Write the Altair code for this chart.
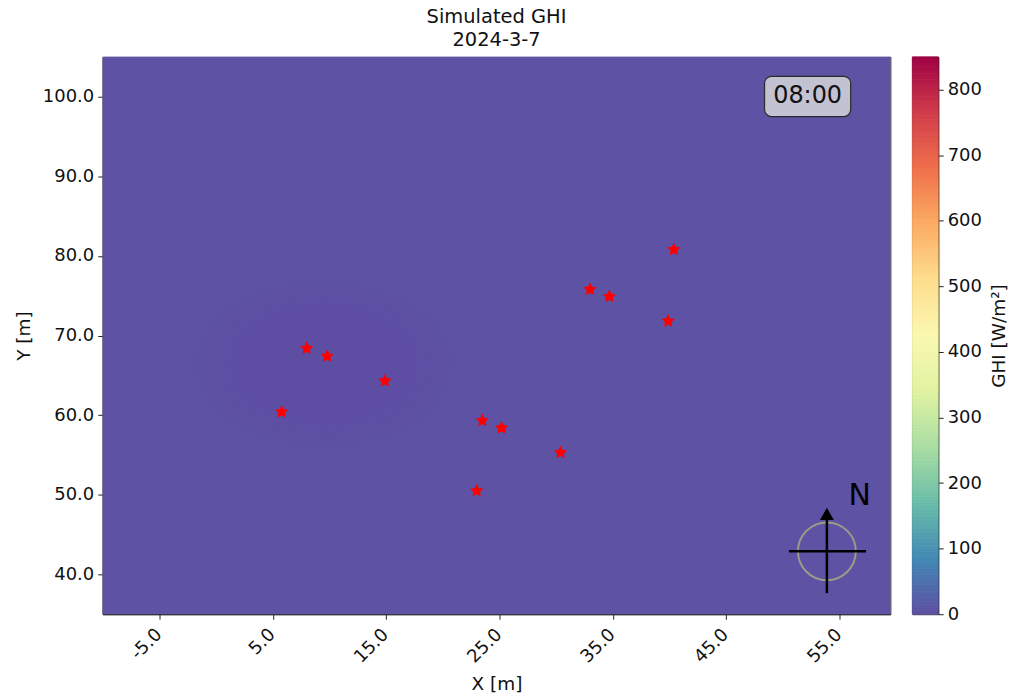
import altair as alt
import pandas as pd

# Pyranometer positions in the site grid (m)
sensor_x = [5.8, 8.0, 9.8, 14.9, 23.5, 25.2, 23.0, 30.4, 33.0, 34.7, 39.9, 40.4]
sensor_y = [60.4, 68.4, 67.4, 64.3, 59.3, 58.4, 50.5, 55.3, 75.8, 74.9, 71.8, 80.8]

# Simulated irradiance field (W/m²) over the site extent
x_extent = [-10.0, 59.5]
y_extent = [35.0, 105.0]
field_ghi = 4.0
shade_ghi = 0.0
shade_center_x = [9.5]
shade_center_y = [66.4]

ghi_domain = [0, 850]
x_ticks = [-5, 5, 15, 25, 35, 45, 55]
y_ticks = [40, 50, 60, 70, 80, 90, 100]
cb_ticks = [0, 100, 200, 300, 400, 500, 600, 700, 800]
cb_step = 5

title_lines = ["Simulated GHI", "2024-3-7"]
time_label = "08:00"

FONT = "DejaVu Sans"
W, H = 790, 559

color_scale = alt.Scale(scheme="spectral", reverse=True, domain=ghi_domain)
xs = alt.Scale(domain=x_extent, nice=False, zero=False)
ys = alt.Scale(domain=y_extent, nice=False, zero=False)

x_enc = alt.X("x:Q", scale=xs, title="X [m]",
              axis=alt.Axis(values=x_ticks,
                            labelExpr="replace(format(datum.value, '.1f'), '\u2212', '-')",
                            labelAngle=315, labelAlign="right", labelBaseline="top",
                            labelOffset=-7, labelPadding=6, titlePadding=8))
y_enc = alt.Y("y:Q", scale=ys, title="Y [m]",
              axis=alt.Axis(values=y_ticks, format=".1f", titlePadding=9,
                            labelPadding=4))

# background field
field_df = pd.DataFrame({"x": [x_extent[0]], "x2": [x_extent[1]],
                         "y": [y_extent[0]], "y2": [y_extent[1]],
                         "ghi": [field_ghi]})
field = alt.Chart(field_df).mark_rect().encode(
    x=x_enc, x2="x2:Q", y=y_enc, y2="y2:Q",
    color=alt.Color("ghi:Q", scale=color_scale, legend=None),
)

# soft lower-irradiance patch, feathered with stacked ellipses
ellipse = "M -1 0 A 1 0.65 0 1 0 1 0 A 1 0.65 0 1 0 -1 0 Z"
shade_df = pd.DataFrame({"x": shade_center_x, "y": shade_center_y, "ghi": [shade_ghi]})
shade_layers = []
for s in [260, 235, 210, 185, 160]:
    shade_layers.append(
        alt.Chart(shade_df).mark_point(shape=ellipse, filled=True, opacity=0.22,
                                       size=s * s, strokeWidth=0).encode(
            x=alt.X("x:Q", scale=xs), y=alt.Y("y:Q", scale=ys),
            color=alt.Color("ghi:Q", scale=color_scale, legend=None),
        )
    )

# sensors as red stars
star = ("M 0 -1 L 0.294 -0.405 L 0.951 -0.309 L 0.476 0.155 L 0.588 0.809 "
        "L 0 0.5 L -0.588 0.809 L -0.476 0.155 L -0.951 -0.309 L -0.294 -0.405 Z")
sens_df = pd.DataFrame({"x": sensor_x, "y": sensor_y})
sensors = alt.Chart(sens_df).mark_point(shape=star, filled=True, color="#ff0000",
                                        size=115, opacity=1, stroke="#ff0000",
                                        strokeWidth=1.4).encode(
    x=alt.X("x:Q", scale=xs), y=alt.Y("y:Q", scale=ys)
)

# time stamp box
box_df = pd.DataFrame({"x": [48.4], "x2": [56.0], "y": [97.5], "y2": [102.55],
                       "tx": [52.2], "ty": [100.1], "label": [time_label]})
box = alt.Chart(box_df).mark_rect(fill="#c2c2d2", stroke="#2a2a2a", strokeWidth=1.2,
                                  cornerRadius=7).encode(
    x=alt.X("x:Q", scale=xs), x2="x2:Q", y=alt.Y("y:Q", scale=ys), y2="y2:Q")
box_text = alt.Chart(box_df).mark_text(font=FONT, fontSize=24, color="#111111",
                                       baseline="middle", align="center").encode(
    x=alt.X("tx:Q", scale=xs), y=alt.Y("ty:Q", scale=ys), text="label:N")

# north compass
cx, cy = 53.9, 42.9
comp_df = pd.DataFrame({"x": [cx], "y": [cy]})
ring = alt.Chart(comp_df).mark_point(shape="circle", filled=False, size=58 * 58,
                                     stroke="#9e9b86", strokeWidth=2, opacity=1).encode(
    x=alt.X("x:Q", scale=xs), y=alt.Y("y:Q", scale=ys))
hbar_df = pd.DataFrame({"x": [50.55], "x2": [57.35], "y": [cy]})
hbar = alt.Chart(hbar_df).mark_rule(color="black", strokeWidth=2.5).encode(
    x=alt.X("x:Q", scale=xs), x2="x2:Q", y=alt.Y("y:Q", scale=ys))
vbar_df = pd.DataFrame({"x": [cx], "y": [37.65], "y2": [47.0]})
vbar = alt.Chart(vbar_df).mark_rule(color="black", strokeWidth=2.5).encode(
    x=alt.X("x:Q", scale=xs), y=alt.Y("y:Q", scale=ys), y2="y2:Q")
head_df = pd.DataFrame({"x": [cx], "y": [47.6]})
head = alt.Chart(head_df).mark_point(shape="triangle-up", filled=True, color="black",
                                     size=196, opacity=1).encode(
    x=alt.X("x:Q", scale=xs), y=alt.Y("y:Q", scale=ys))
n_df = pd.DataFrame({"x": [56.8], "y": [49.9], "t": ["N"]})
north = alt.Chart(n_df).mark_text(font=FONT, fontSize=30, color="black",
                                  baseline="middle", align="center").encode(
    x=alt.X("x:Q", scale=xs), y=alt.Y("y:Q", scale=ys), text="t:N")

main = alt.layer(field, *shade_layers, sensors, box, box_text, ring, hbar, vbar,
                 head, north).properties(
    width=W, height=H,
    title=alt.TitleParams(title_lines, font=FONT, fontSize=19.5, fontWeight="normal",
                          color="#111111", anchor="middle", lineHeight=23, offset=6),
)

# colour bar
levels = list(range(ghi_domain[0], ghi_domain[1], cb_step))
cb_df = pd.DataFrame({"lo": levels, "hi": [v + cb_step for v in levels],
                      "ghi": [v + cb_step / 2 for v in levels]})
colorbar = alt.Chart(cb_df).mark_rect(strokeWidth=0.8).encode(
    y=alt.Y("lo:Q", scale=alt.Scale(domain=ghi_domain, nice=False, zero=False),
            title="GHI [W/m²]",
            axis=alt.Axis(orient="right", values=cb_ticks, format="d",
                          titleAngle=270, titleBaseline="top", titlePadding=8,
                          labelPadding=4)),
    y2="hi:Q",
    color=alt.Color("ghi:Q", scale=color_scale, legend=None),
    stroke=alt.Stroke("ghi:Q", scale=color_scale, legend=None),
).properties(width=26, height=H)

chart = alt.hconcat(main, colorbar, spacing=20).properties(
    padding={"left": 13, "top": 6, "right": 2, "bottom": 2},
    background="white",
).configure_view(stroke="#222222", strokeWidth=1).configure_axis(
    labelFont=FONT, labelFontSize=18, labelColor="#111111",
    titleFont=FONT, titleFontSize=18.5, titleFontWeight="normal", titleColor="#111111",
    domainColor="#222222", tickColor="#222222", tickSize=5, grid=False,
).configure_concat(spacing=20)

chart.save("out.html", embed_options={"renderer": "svg", "actions": False})
